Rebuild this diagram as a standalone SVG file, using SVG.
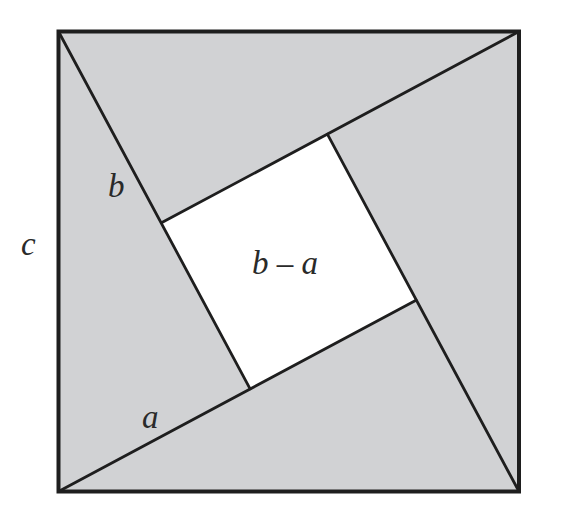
<svg xmlns="http://www.w3.org/2000/svg" width="577" height="532" viewBox="0 0 577 532">
  <style>
    .lbl { font-family: "Liberation Serif", "Times New Roman", serif; font-style: italic; font-size: 33px; fill: #2a2a2a; }
    .edge { stroke: #1e1e1e; stroke-width: 2.8; fill: none; stroke-linecap: round; }
  </style>
  <rect width="577" height="532" fill="#ffffff"/>
  <g id="outer-square">
    <rect x="58.5" y="31.5" width="460.5" height="460" fill="#d1d2d4"/>
  </g>
  <g id="inner-square">
    <polygon points="250.1,388.8 416.05,300.15 327.4,134.2 161.45,222.85" fill="#ffffff"/>
  </g>
  <g id="connectors">
    <line class="edge" x1="58.5" y1="491.5" x2="416.05" y2="300.15"/>
    <line class="edge" x1="519" y1="491.5" x2="327.4" y2="134.2"/>
    <line class="edge" x1="519" y1="31.5" x2="161.45" y2="222.85"/>
    <line class="edge" x1="58.5" y1="31.5" x2="250.1" y2="388.8"/>
  </g>
  <g id="outer-border">
    <rect x="58.5" y="31.5" width="460.5" height="460" fill="none" stroke="#1e1e1e" stroke-width="4"/>
  </g>
  <g id="labels">
    <text class="lbl" x="108" y="197">b</text>
    <text class="lbl" x="21" y="255">c</text>
    <text class="lbl" x="142" y="428">a</text>
    <text class="lbl" x="285" y="274" text-anchor="middle">b – a</text>
  </g>
</svg>
